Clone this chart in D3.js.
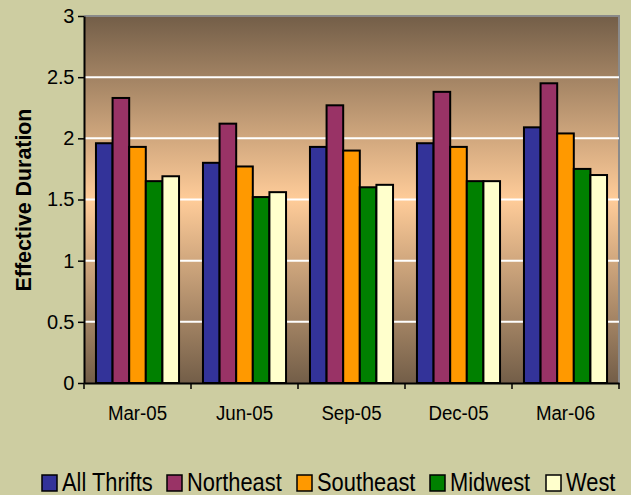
<!DOCTYPE html>
<html>
<head>
<meta charset="utf-8">
<script src="https://cdn.jsdelivr.net/npm/d3@7"></script>
<style>
  body { margin: 0; background: #cdcda1; }
  svg { display: block; font-family: "Liberation Sans", Arial, sans-serif; }
</style>
</head>
<body>
<script>
// data
const categories = ["Mar-05", "Jun-05", "Sep-05", "Dec-05", "Mar-06"];
const seriesNames = ["All Thrifts", "Northeast", "Southeast", "Midwest", "West"];
const allThrifts = [1.96, 1.80, 1.93, 1.96, 2.09];
const northeast = [2.33, 2.12, 2.27, 2.38, 2.45];
const southeast = [1.93, 1.77, 1.90, 1.93, 2.04];
const midwest = [1.65, 1.52, 1.60, 1.65, 1.75];
const west = [1.69, 1.56, 1.62, 1.65, 1.70];
const yTicks = [0, 0.5, 1, 1.5, 2, 2.5, 3];
const colors = ["#333399", "#993366", "#ff9900", "#008000", "#ffffcc"];

const values = [allThrifts, northeast, southeast, midwest, west];

const w = 631, h = 495;
const plotL = 84, plotR = 619, plotT = 16, plotB = 383;

const svg = d3.select("body").append("svg")
  .attr("width", w)
  .attr("height", h);

// plot background gradient (dark - light - dark)
const grad = svg.append("defs").append("linearGradient")
  .attr("id", "bg")
  .attr("x1", 0).attr("y1", 0).attr("x2", 0).attr("y2", 1);
grad.append("stop").attr("offset", "0%").attr("stop-color", "#735e48");
grad.append("stop").attr("offset", "50%").attr("stop-color", "#ffcc99");
grad.append("stop").attr("offset", "100%").attr("stop-color", "#735e48");

const x0 = d3.scaleBand().domain(categories).range([plotL, plotR]).padding(0);
const x1 = d3.scaleBand().domain(seriesNames).range([0, x0.bandwidth()])
  .paddingInner(0).paddingOuter(0.72);
const y = d3.scaleLinear().domain([0, 3]).range([plotB, plotT]);

svg.append("rect")
  .attr("x", plotL).attr("y", plotT)
  .attr("width", plotR - plotL).attr("height", plotB - plotT)
  .attr("fill", "url(#bg)");

// border top + right
svg.append("path")
  .attr("d", `M${plotL},${plotT}H${plotR}V${plotB}`)
  .attr("fill", "none")
  .attr("stroke", "#8a8a8a")
  .attr("stroke-width", 2);

// gridlines
svg.selectAll(".grid")
  .data(yTicks.filter(t => t > 0 && t < 3))
  .enter().append("line")
  .attr("class", "grid")
  .attr("x1", plotL).attr("x2", plotR)
  .attr("y1", d => y(d)).attr("y2", d => y(d))
  .attr("stroke", "#ffffff")
  .attr("stroke-width", 2);

// bars
const groups = svg.selectAll(".grp")
  .data(categories)
  .enter().append("g")
  .attr("class", "grp")
  .attr("transform", d => "translate(" + x0(d) + ",0)");

groups.selectAll("rect")
  .data((c, i) => seriesNames.map((s, j) => ({ s: s, v: values[j][i], j: j })))
  .enter().append("rect")
  .attr("x", d => x1(d.s))
  .attr("y", d => y(d.v))
  .attr("width", x1.bandwidth())
  .attr("height", d => y(0) - y(d.v))
  .attr("fill", d => colors[d.j])
  .attr("stroke", "#000")
  .attr("stroke-width", 2);

// y axis
const yAxis = d3.axisLeft(y).tickValues(yTicks).tickFormat(d => String(d))
  .tickSize(6).tickSizeOuter(0).tickPadding(4);
const gy = svg.append("g")
  .attr("transform", "translate(" + plotL + ",0)")
  .call(yAxis);
gy.select(".domain").attr("stroke", "#000").attr("stroke-width", 2);
gy.selectAll(".tick line").attr("stroke-width", 1.5);
gy.selectAll("text")
  .attr("font-size", 20)
  .attr("letter-spacing", "-0.3px")
  .attr("fill", "#000")
  .attr("font-family", "Liberation Sans, Arial, sans-serif");

// x axis
const xAxis = d3.axisBottom(x0).tickSize(0).tickSizeOuter(0).tickPadding(22);
const gx = svg.append("g")
  .attr("transform", "translate(0," + plotB + ")")
  .call(xAxis);
gx.select(".domain").attr("stroke", "#000").attr("stroke-width", 2);
gx.selectAll("text")
  .attr("font-size", 21)
  .attr("transform", "scale(0.89,1)")
  .attr("fill", "#000")
  .attr("font-family", "Liberation Sans, Arial, sans-serif");

// category boundary ticks
gx.selectAll(".btick")
  .data(categories.map(c => x0(c)).concat([plotR]))
  .enter().append("line")
  .attr("class", "btick")
  .attr("x1", d => d).attr("x2", d => d)
  .attr("y1", 0).attr("y2", 6)
  .attr("stroke", "#000")
  .attr("stroke-width", 1.5);

// y axis title
svg.append("text")
  .attr("transform", "translate(31,200) rotate(-90) scale(0.95,1)")
  .attr("text-anchor", "middle")
  .attr("font-size", 22.5)
  .attr("font-weight", "bold")
  .text("Effective Duration");

// legend
const legendX = [42, 167, 297, 430, 546];
const leg = svg.selectAll(".leg")
  .data(seriesNames)
  .enter().append("g")
  .attr("class", "leg")
  .attr("transform", (d, i) => "translate(" + legendX[i] + ",475)");
leg.append("rect")
  .attr("x", 0).attr("y", 0)
  .attr("width", 15).attr("height", 16)
  .attr("fill", (d, i) => colors[i])
  .attr("stroke", "#000")
  .attr("stroke-width", 1.5);
leg.append("text")
  .attr("transform", "translate(20,15.5) scale(0.875,1)")
  .attr("font-size", 25)
  .text(d => d);
</script>
</body>
</html>
